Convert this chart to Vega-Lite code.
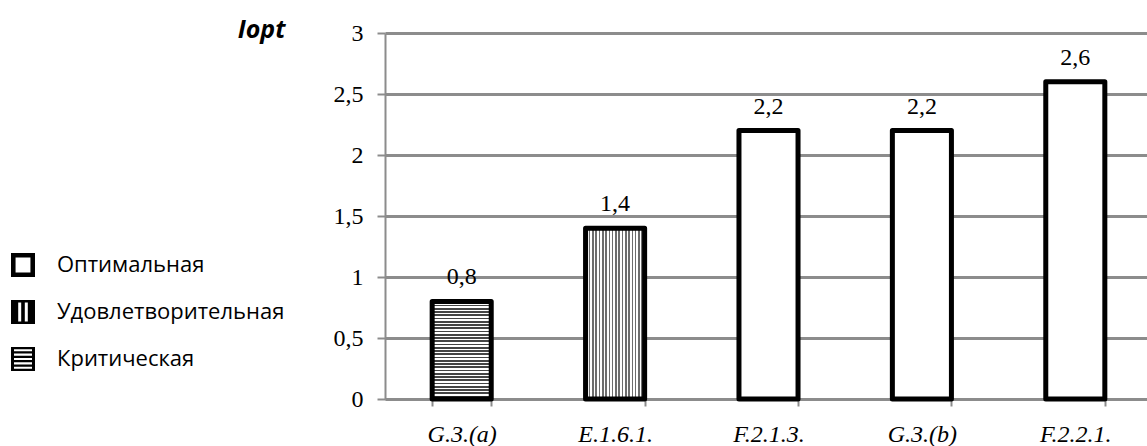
{
  "$schema": "https://vega.github.io/schema/vega-lite/v6.json",
  "width": 762,
  "height": 366,
  "autosize": {"type": "none"},
  "padding": {"left": 385, "top": 33, "right": 0, "bottom": 47},
  "background": "white",
  "config": {
    "view": {"stroke": null},
    "locale": {"number": {"decimal": ",", "thousands": " ", "grouping": [3], "currency": ["", ""]}}
  },
  "data": {
    "values": [
      {"code": "G.3.(a)", "value": 0.8, "type": "Критическая"},
      {"code": "E.1.6.1.", "value": 1.4, "type": "Удовлетворительная"},
      {"code": "F.2.1.3.", "value": 2.2, "type": "Оптимальная"},
      {"code": "G.3.(b)", "value": 2.2, "type": "Оптимальная"},
      {"code": "F.2.2.1.", "value": 2.6, "type": "Оптимальная"}
    ]
  },
  "encoding": {
    "x": {
      "field": "code", "type": "nominal", "sort": null,
      "scale": {"domain": ["G.3.(a)", "E.1.6.1.", "F.2.1.3.", "G.3.(b)", "F.2.2.1."], "range": [0, 767], "paddingInner": 0.615, "paddingOuter": 0.3075},
      "axis": {
        "title": null, "labelAngle": 0, "grid": false,
        "tickBand": "extent", "domainColor": "#8c8c8c", "domainWidth": 2,
        "tickColor": "#8c8c8c", "tickWidth": 2, "tickSize": 7,
        "labelFont": "Liberation Serif", "labelFontStyle": "italic", "labelFontSize": 24,
        "labelColor": "black", "labelPadding": 16
      }
    },
    "y": {
      "field": "value", "type": "quantitative",
      "scale": {"domain": [0, 3], "nice": false},
      "axis": {
        "values": [0, 0.5, 1, 1.5, 2, 2.5, 3], "format": "~g",
        "grid": true, "gridColor": "#8c8c8c", "gridWidth": 3,
        "domainColor": "#8c8c8c", "domainWidth": 2,
        "tickColor": "#8c8c8c", "tickWidth": 2, "tickSize": 8,
        "labelFont": "Liberation Serif", "labelFontSize": 24, "labelColor": "black", "labelPadding": 14,
        "title": "Iopt", "titleAngle": 0, "titleAlign": "right", "titleBaseline": "middle",
        "titleX": -100, "titleY": -4, "titleFont": "Open Sans", "titleFontSize": 25,
        "titleFontStyle": "italic", "titleFontWeight": "bold", "titleColor": "black"
      }
    }
  },
  "layer": [
    {
      "transform": [{"filter": "datum.type === 'Оптимальная'"}],
      "mark": {"type": "bar", "fill": "white", "stroke": "black", "strokeWidth": 5, "strokeJoin": "round"}
    },
    {
      "transform": [{"filter": "datum.type === 'Удовлетворительная'"}],
      "mark": {
        "type": "bar", "stroke": "black", "strokeWidth": 5, "strokeJoin": "round",
        "fill": {
          "gradient": "linear", "x1": 0, "y1": 0, "x2": 1, "y2": 0,
          "stops": [
            {"offset": 0, "color": "#6e6e6e"}, {"offset": 0.0278, "color": "#6e6e6e"}, {"offset": 0.0278, "color": "#ffffff"}, {"offset": 0.0556, "color": "#ffffff"},
            {"offset": 0.0556, "color": "#6e6e6e"}, {"offset": 0.0833, "color": "#6e6e6e"}, {"offset": 0.0833, "color": "#ffffff"}, {"offset": 0.1111, "color": "#ffffff"},
            {"offset": 0.1111, "color": "#6e6e6e"}, {"offset": 0.1389, "color": "#6e6e6e"}, {"offset": 0.1389, "color": "#ffffff"}, {"offset": 0.1667, "color": "#ffffff"},
            {"offset": 0.1667, "color": "#6e6e6e"}, {"offset": 0.1944, "color": "#6e6e6e"}, {"offset": 0.1944, "color": "#ffffff"}, {"offset": 0.2222, "color": "#ffffff"},
            {"offset": 0.2222, "color": "#6e6e6e"}, {"offset": 0.25, "color": "#6e6e6e"}, {"offset": 0.25, "color": "#ffffff"}, {"offset": 0.2778, "color": "#ffffff"},
            {"offset": 0.2778, "color": "#6e6e6e"}, {"offset": 0.3056, "color": "#6e6e6e"}, {"offset": 0.3056, "color": "#ffffff"}, {"offset": 0.3333, "color": "#ffffff"},
            {"offset": 0.3333, "color": "#6e6e6e"}, {"offset": 0.3611, "color": "#6e6e6e"}, {"offset": 0.3611, "color": "#ffffff"}, {"offset": 0.3889, "color": "#ffffff"},
            {"offset": 0.3889, "color": "#6e6e6e"}, {"offset": 0.4167, "color": "#6e6e6e"}, {"offset": 0.4167, "color": "#ffffff"}, {"offset": 0.4444, "color": "#ffffff"},
            {"offset": 0.4444, "color": "#6e6e6e"}, {"offset": 0.4722, "color": "#6e6e6e"}, {"offset": 0.4722, "color": "#ffffff"}, {"offset": 0.5, "color": "#ffffff"},
            {"offset": 0.5, "color": "#6e6e6e"}, {"offset": 0.5278, "color": "#6e6e6e"}, {"offset": 0.5278, "color": "#ffffff"}, {"offset": 0.5556, "color": "#ffffff"},
            {"offset": 0.5556, "color": "#6e6e6e"}, {"offset": 0.5833, "color": "#6e6e6e"}, {"offset": 0.5833, "color": "#ffffff"}, {"offset": 0.6111, "color": "#ffffff"},
            {"offset": 0.6111, "color": "#6e6e6e"}, {"offset": 0.6389, "color": "#6e6e6e"}, {"offset": 0.6389, "color": "#ffffff"}, {"offset": 0.6667, "color": "#ffffff"},
            {"offset": 0.6667, "color": "#6e6e6e"}, {"offset": 0.6944, "color": "#6e6e6e"}, {"offset": 0.6944, "color": "#ffffff"}, {"offset": 0.7222, "color": "#ffffff"},
            {"offset": 0.7222, "color": "#6e6e6e"}, {"offset": 0.75, "color": "#6e6e6e"}, {"offset": 0.75, "color": "#ffffff"}, {"offset": 0.7778, "color": "#ffffff"},
            {"offset": 0.7778, "color": "#6e6e6e"}, {"offset": 0.8056, "color": "#6e6e6e"}, {"offset": 0.8056, "color": "#ffffff"}, {"offset": 0.8333, "color": "#ffffff"},
            {"offset": 0.8333, "color": "#6e6e6e"}, {"offset": 0.8611, "color": "#6e6e6e"}, {"offset": 0.8611, "color": "#ffffff"}, {"offset": 0.8889, "color": "#ffffff"},
            {"offset": 0.8889, "color": "#6e6e6e"}, {"offset": 0.9167, "color": "#6e6e6e"}, {"offset": 0.9167, "color": "#ffffff"}, {"offset": 0.9444, "color": "#ffffff"},
            {"offset": 0.9444, "color": "#6e6e6e"}, {"offset": 0.9722, "color": "#6e6e6e"}, {"offset": 0.9722, "color": "#ffffff"}, {"offset": 1, "color": "#ffffff"}
          ]
        }
      }
    },
    {
      "transform": [{"filter": "datum.type === 'Критическая'"}],
      "mark": {
        "type": "bar", "stroke": "black", "strokeWidth": 5, "strokeJoin": "round",
        "fill": {
          "gradient": "linear", "x1": 0, "y1": 0, "x2": 0, "y2": 1,
          "stops": [
            {"offset": 0, "color": "#444444"}, {"offset": 0.0167, "color": "#444444"}, {"offset": 0.0167, "color": "#ffffff"}, {"offset": 0.0333, "color": "#ffffff"},
            {"offset": 0.0333, "color": "#444444"}, {"offset": 0.05, "color": "#444444"}, {"offset": 0.05, "color": "#ffffff"}, {"offset": 0.0667, "color": "#ffffff"},
            {"offset": 0.0667, "color": "#444444"}, {"offset": 0.0833, "color": "#444444"}, {"offset": 0.0833, "color": "#ffffff"}, {"offset": 0.1, "color": "#ffffff"},
            {"offset": 0.1, "color": "#444444"}, {"offset": 0.1167, "color": "#444444"}, {"offset": 0.1167, "color": "#ffffff"}, {"offset": 0.1333, "color": "#ffffff"},
            {"offset": 0.1333, "color": "#444444"}, {"offset": 0.15, "color": "#444444"}, {"offset": 0.15, "color": "#ffffff"}, {"offset": 0.1667, "color": "#ffffff"},
            {"offset": 0.1667, "color": "#444444"}, {"offset": 0.1833, "color": "#444444"}, {"offset": 0.1833, "color": "#ffffff"}, {"offset": 0.2, "color": "#ffffff"},
            {"offset": 0.2, "color": "#444444"}, {"offset": 0.2167, "color": "#444444"}, {"offset": 0.2167, "color": "#ffffff"}, {"offset": 0.2333, "color": "#ffffff"},
            {"offset": 0.2333, "color": "#444444"}, {"offset": 0.25, "color": "#444444"}, {"offset": 0.25, "color": "#ffffff"}, {"offset": 0.2667, "color": "#ffffff"},
            {"offset": 0.2667, "color": "#444444"}, {"offset": 0.2833, "color": "#444444"}, {"offset": 0.2833, "color": "#ffffff"}, {"offset": 0.3, "color": "#ffffff"},
            {"offset": 0.3, "color": "#444444"}, {"offset": 0.3167, "color": "#444444"}, {"offset": 0.3167, "color": "#ffffff"}, {"offset": 0.3333, "color": "#ffffff"},
            {"offset": 0.3333, "color": "#444444"}, {"offset": 0.35, "color": "#444444"}, {"offset": 0.35, "color": "#ffffff"}, {"offset": 0.3667, "color": "#ffffff"},
            {"offset": 0.3667, "color": "#444444"}, {"offset": 0.3833, "color": "#444444"}, {"offset": 0.3833, "color": "#ffffff"}, {"offset": 0.4, "color": "#ffffff"},
            {"offset": 0.4, "color": "#444444"}, {"offset": 0.4167, "color": "#444444"}, {"offset": 0.4167, "color": "#ffffff"}, {"offset": 0.4333, "color": "#ffffff"},
            {"offset": 0.4333, "color": "#444444"}, {"offset": 0.45, "color": "#444444"}, {"offset": 0.45, "color": "#ffffff"}, {"offset": 0.4667, "color": "#ffffff"},
            {"offset": 0.4667, "color": "#444444"}, {"offset": 0.4833, "color": "#444444"}, {"offset": 0.4833, "color": "#ffffff"}, {"offset": 0.5, "color": "#ffffff"},
            {"offset": 0.5, "color": "#444444"}, {"offset": 0.5167, "color": "#444444"}, {"offset": 0.5167, "color": "#ffffff"}, {"offset": 0.5333, "color": "#ffffff"},
            {"offset": 0.5333, "color": "#444444"}, {"offset": 0.55, "color": "#444444"}, {"offset": 0.55, "color": "#ffffff"}, {"offset": 0.5667, "color": "#ffffff"},
            {"offset": 0.5667, "color": "#444444"}, {"offset": 0.5833, "color": "#444444"}, {"offset": 0.5833, "color": "#ffffff"}, {"offset": 0.6, "color": "#ffffff"},
            {"offset": 0.6, "color": "#444444"}, {"offset": 0.6167, "color": "#444444"}, {"offset": 0.6167, "color": "#ffffff"}, {"offset": 0.6333, "color": "#ffffff"},
            {"offset": 0.6333, "color": "#444444"}, {"offset": 0.65, "color": "#444444"}, {"offset": 0.65, "color": "#ffffff"}, {"offset": 0.6667, "color": "#ffffff"},
            {"offset": 0.6667, "color": "#444444"}, {"offset": 0.6833, "color": "#444444"}, {"offset": 0.6833, "color": "#ffffff"}, {"offset": 0.7, "color": "#ffffff"},
            {"offset": 0.7, "color": "#444444"}, {"offset": 0.7167, "color": "#444444"}, {"offset": 0.7167, "color": "#ffffff"}, {"offset": 0.7333, "color": "#ffffff"},
            {"offset": 0.7333, "color": "#444444"}, {"offset": 0.75, "color": "#444444"}, {"offset": 0.75, "color": "#ffffff"}, {"offset": 0.7667, "color": "#ffffff"},
            {"offset": 0.7667, "color": "#444444"}, {"offset": 0.7833, "color": "#444444"}, {"offset": 0.7833, "color": "#ffffff"}, {"offset": 0.8, "color": "#ffffff"},
            {"offset": 0.8, "color": "#444444"}, {"offset": 0.8167, "color": "#444444"}, {"offset": 0.8167, "color": "#ffffff"}, {"offset": 0.8333, "color": "#ffffff"},
            {"offset": 0.8333, "color": "#444444"}, {"offset": 0.85, "color": "#444444"}, {"offset": 0.85, "color": "#ffffff"}, {"offset": 0.8667, "color": "#ffffff"},
            {"offset": 0.8667, "color": "#444444"}, {"offset": 0.8833, "color": "#444444"}, {"offset": 0.8833, "color": "#ffffff"}, {"offset": 0.9, "color": "#ffffff"},
            {"offset": 0.9, "color": "#444444"}, {"offset": 0.9167, "color": "#444444"}, {"offset": 0.9167, "color": "#ffffff"}, {"offset": 0.9333, "color": "#ffffff"},
            {"offset": 0.9333, "color": "#444444"}, {"offset": 0.95, "color": "#444444"}, {"offset": 0.95, "color": "#ffffff"}, {"offset": 0.9667, "color": "#ffffff"},
            {"offset": 0.9667, "color": "#444444"}, {"offset": 0.9833, "color": "#444444"}, {"offset": 0.9833, "color": "#ffffff"}, {"offset": 1, "color": "#ffffff"}
          ]
        }
      }
    },
    {
      "mark": {"type": "text", "font": "Liberation Serif", "fontSize": 24, "color": "black", "baseline": "alphabetic", "dy": -17},
      "encoding": {"text": {"field": "value", "type": "quantitative", "format": ".1f"}}
    },
    {
      "mark": {"type": "point", "filled": true, "color": "black", "opacity": 0},
      "encoding": {
        "shape": {
          "field": "type", "type": "nominal",
          "scale": {
            "domain": ["Оптимальная", "Удовлетворительная", "Критическая"],
            "range": [
              "M-1,-1H1V1H-1Z M-0.62,-0.62V0.62H0.62V-0.62Z",
              "M-1,-1H-0.4V1H-1Z M-0.15,-1H0.15V1H-0.15Z M0.4,-1H1V1H0.4Z M-1,-1H1V-0.8H-1Z M-1,0.8H1V1H-1Z",
              "M-1,-1H-0.75V1H-1Z M0.75,-1H1V1H0.75Z M-1,-1H1V-0.818H-1Z M-1,-0.636H1V-0.455H-1Z M-1,-0.273H1V-0.091H-1Z M-1,0.091H1V0.273H-1Z M-1,0.455H1V0.636H-1Z M-1,0.818H1V1H-1Z"
            ]
          },
          "legend": {
            "title": null, "orient": "none", "legendX": -374, "legendY": 220,
            "padding": 0, "symbolSize": 576, "symbolFillColor": "black", "symbolStrokeWidth": 0,
            "symbolOpacity": 1, "labelFont": "Open Sans", "labelFontSize": 22, "labelColor": "black",
            "labelOffset": 22, "rowPadding": 23, "labelLimit": 400
          }
        }
      }
    }
  ]
}
